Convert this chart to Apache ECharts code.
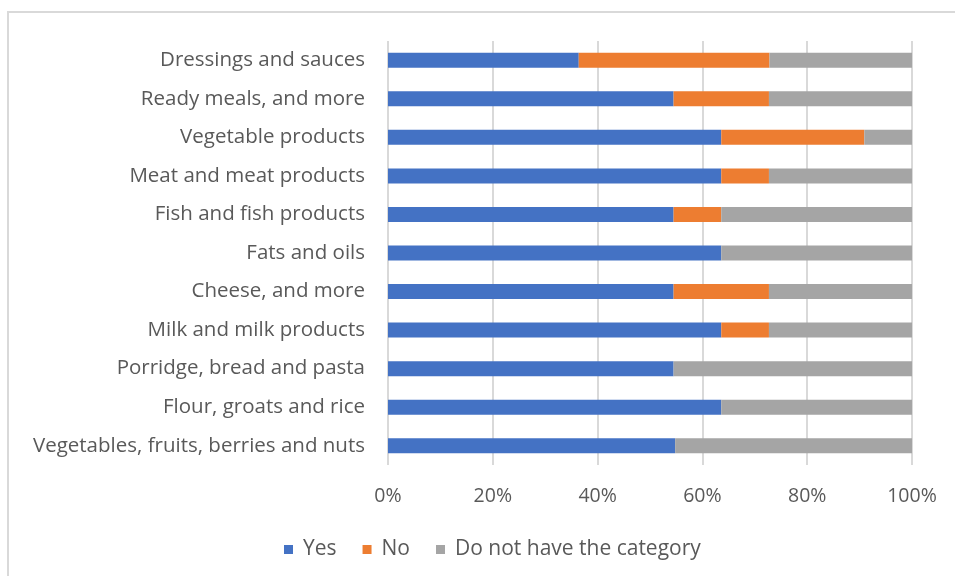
<!DOCTYPE html>
<html>
<head>
<meta charset="utf-8">
<script src="https://cdn.jsdelivr.net/npm/echarts@6/dist/echarts.min.js"></script>
<style>
  html, body { margin: 0; padding: 0; background: #ffffff; }
  #chart { width: 955px; height: 576px; }
</style>
</head>
<body>
<div id="chart"></div>
<script>
// Food categories, listed bottom to top as the category axis draws them
const categories = [
  'Vegetables, fruits, berries and nuts',
  'Flour, groats and rice',
  'Porridge, bread and pasta',
  'Milk and milk products',
  'Cheese, and more',
  'Fats and oils',
  'Fish and fish products',
  'Meat and meat products',
  'Vegetable products',
  'Ready meals, and more',
  'Dressings and sauces'
];

// Share of answers per category, in percent
const yesValues   = [54.8, 63.6, 54.5, 63.6, 54.5, 63.6, 54.5, 63.6, 63.6, 54.5, 36.4];
const noValues    = [0, 0, 0, 9.1, 18.2, 0, 9.1, 9.1, 27.3, 18.2, 36.4];
const noneValues  = [45.2, 36.4, 45.5, 27.3, 27.3, 36.4, 36.4, 27.3, 9.1, 27.3, 27.2];

const seriesNames = ['Yes', 'No', 'Do not have the category'];
const seriesColors = ['#4472c4', '#ed7d31', '#a5a5a5'];
const tickValues = [0, 20, 40, 60, 80, 100];

const fontFamily = '"Open Sans", Lato, sans-serif';
const textColor = '#595959';

const chart = echarts.init(document.getElementById('chart'), null, { renderer: 'canvas' });

const dataSets = [yesValues, noValues, noneValues];

chart.setOption({
  animation: false,
  backgroundColor: '#ffffff',
  textStyle: { fontFamily: fontFamily },
  graphic: [{
    type: 'rect',
    shape: { x: 8, y: 12, width: 960, height: 580 },
    style: { fill: 'none', stroke: '#d9d9d9', lineWidth: 2 },
    silent: true
  }],
  grid: { left: 388, right: 43, top: 41, height: 424, containLabel: false },
  legend: {
    bottom: 11,
    left: 279,
    itemWidth: 9,
    itemHeight: 9,
    itemGap: 26,
    icon: 'rect',
    textStyle: { color: textColor, fontSize: 21, fontFamily: fontFamily, padding: [0, 0, 0, 5] },
    data: seriesNames
  },
  xAxis: {
    type: 'value',
    min: tickValues[0],
    max: tickValues[tickValues.length - 1],
    interval: 20,
    axisLine: { show: false },
    axisTick: { show: false },
    splitLine: { show: true, lineStyle: { color: '#d9d9d9', width: 2 } },
    axisLabel: {
      color: textColor,
      fontSize: 19.5,
      margin: 21,
      formatter: function (v) { return v + '%'; }
    }
  },
  yAxis: {
    type: 'category',
    data: categories,
    axisLine: { show: false },
    axisTick: { show: false },
    axisLabel: { color: textColor, fontSize: 20.5, margin: 23 }
  },
  series: seriesNames.map(function (name, i) {
    return {
      name: name,
      type: 'bar',
      stack: 'total',
      barWidth: 15,
      itemStyle: { color: seriesColors[i] },
      data: dataSets[i]
    };
  })
});
</script>
</body>
</html>
